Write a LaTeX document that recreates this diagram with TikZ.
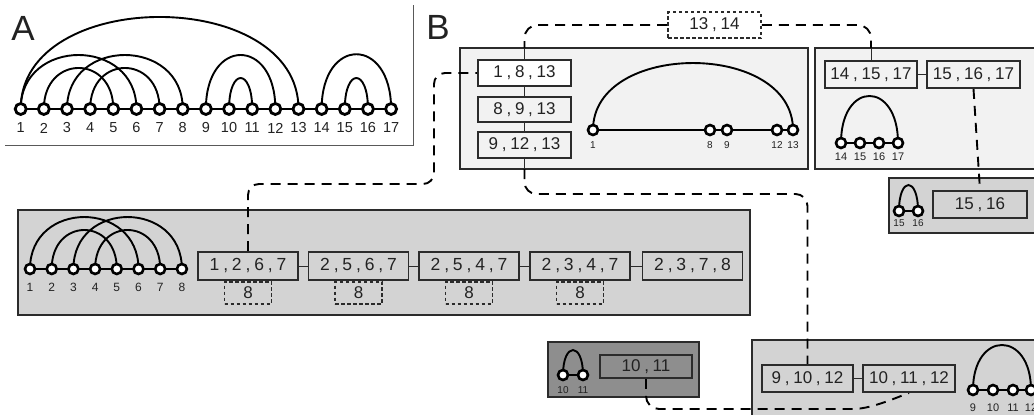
\documentclass[tikz,border=0pt]{standalone}
\usepackage{fontspec}
\setmainfont{Liberation Sans}
\definecolor{lightbg}{HTML}{F2F2F2}
\definecolor{midbg}{HTML}{D3D3D3}
\definecolor{darkbg}{HTML}{8E8E8E}
\definecolor{bordc}{HTML}{2B2B2B}
\definecolor{txtc}{HTML}{222222}
\pgfdeclarelayer{boxes}
\pgfdeclarelayer{arcs}
\pgfsetlayers{boxes,arcs,main}
\newcommand\myfs[1]{\fontsize{#1}{#1}\selectfont}
\newcommand\sepc{\hspace{0.22em},\hspace{0.22em}}
\newcommand\hump[3]{\draw[arcline] (#1.center) .. controls +(0,-#3) and +(0,-#3) .. (#2.center);}
\tikzset{
  panel/.style={draw=bordc, line width=1.9pt},
  setbox/.style={draw=bordc, line width=1.8pt, inner sep=0pt, text=txtc, font=\myfs{17}},
  sepbox/.style={draw=bordc, line width=1.6pt, dash pattern=on 3.5pt off 2.5pt, inner sep=0pt, text=txtc, font=\myfs{17}},
  vA/.style={circle, draw=black, line width=2.8pt, fill=white, minimum size=11pt, inner sep=0pt},
  vB/.style={circle, draw=black, line width=2.6pt, fill=white, minimum size=10pt, inner sep=0pt},
  lblA/.style={inner sep=0pt, text=txtc, font=\myfs{14.5}},
  lblS/.style={inner sep=0pt, text=txtc, font=\myfs{10}},
  lblM/.style={inner sep=0pt, text=txtc, font=\myfs{11}},
  lblL/.style={inner sep=0pt, text=txtc, font=\myfs{12}},
  arcline/.style={draw=black, line width=1.9pt},
  baseline/.style={draw=black, line width=1.8pt},
  thinconn/.style={draw=bordc, line width=1pt},
  dconn/.style={draw=black, line width=1.9pt, dash pattern=on 10pt off 7pt},
  letter/.style={inner sep=0pt, text=txtc, font=\myfs{35}},
}
\begin{document}
\begin{tikzpicture}[x=1pt,y=-1pt]
\useasboundingbox (0,0) rectangle (1034,415);

% ---------------- Panel A ----------------
\node[letter] (LA) at (23,28) {A};
\draw[draw=gray!70!black, line width=1pt] (5,145) -| (413,5);
\foreach \i in {1,...,17}{
  \pgfmathsetmacro\xx{20.7+23.15*(\i-1)}
  \node[vA] (a\i) at (\xx,109) {};
  \node[lblA] (la\i) at (\xx,128) {\i};
}
\begin{pgfonlayer}{arcs}
  \draw[baseline] (a1.center) -- (a17.center);
  \hump{a1}{a13}{122.7}
  \hump{a1}{a6}{72}
  \hump{a2}{a5}{54.7}
  \hump{a3}{a8}{72}
  \hump{a4}{a7}{54.7}
  \hump{a9}{a12}{72}
  \hump{a10}{a11}{41.3}
  \hump{a14}{a17}{73}
  \hump{a15}{a16}{41.3}
\end{pgfonlayer}

% ---------------- Panel B ----------------
\node[letter] (LB) at (438,27) {B};

\begin{pgfonlayer}{boxes}
  \draw[panel, fill=lightbg] (460,48) rectangle (808,169);
  \draw[panel, fill=lightbg] (815,48) rectangle (1045,169);
  \draw[panel, fill=midbg] (889,178) rectangle (1045,233);
  \draw[panel, fill=midbg] (18,210) rectangle (750,315);
  \draw[panel, fill=darkbg] (548,342) rectangle (699,397);
  \draw[panel, fill=midbg] (752,340) rectangle (1045,425);
\end{pgfonlayer}

% top-left panel
\node[setbox, fill=white, minimum width=93pt, minimum height=26pt] (b1813) at (524.5,73) {1\sepc 8\sepc 13};
\node[setbox, fill=lightbg, minimum width=93pt, minimum height=25pt] (b8913) at (524.5,109.5) {8\sepc 9\sepc 13};
\node[setbox, fill=lightbg, minimum width=93pt, minimum height=26pt] (b91213) at (524.5,145) {9\sepc 12\sepc 13};
\foreach \n/\x in {1/593,8/710,9/727,12/777,13/793}{
  \node[vB] (p\n) at (\x,130) {};
  \node[lblS] (lp\n) at (\x,145) {\n};
}
\begin{pgfonlayer}{arcs}
  \draw[baseline] (p1.center) -- (p13.center);
  \hump{p1}{p13}{89.3}
\end{pgfonlayer}

% separator 13,14
\node[sepbox, minimum width=93pt, minimum height=26pt] (s1314) at (714.5,25) {13\sepc 14};

% top-right panel
\node[setbox, fill=lightbg, minimum width=92pt, minimum height=27pt] (b141517) at (871,74.5) {14\sepc 15\sepc 17};
\node[setbox, fill=lightbg, minimum width=93pt, minimum height=27pt] (b151617) at (973.5,74.5) {15\sepc 16\sepc 17};
\foreach \n/\x in {14/841,15/860,16/879,17/898}{
  \node[vB] (q\n) at (\x,143) {};
  \node[lblM] (lq\n) at (\x,157) {\n};
}
\begin{pgfonlayer}{arcs}
  \draw[baseline] (q14.center) -- (q17.center);
  \hump{q14}{q17}{62.7}
\end{pgfonlayer}

% 15,16 panel
\node[setbox, fill=midbg, minimum width=94pt, minimum height=27pt] (b1516) at (980,204.5) {15\sepc 16};
\foreach \n/\x in {15/899,16/918}{
  \node[vB] (r\n) at (\x,211) {};
  \node[lblS] (lr\n) at (\x,223) {\n};
}
\begin{pgfonlayer}{arcs}
  \draw[baseline] (r15.center) -- (r16.center);
  \hump{r15}{r16}{34.7}
\end{pgfonlayer}

% big middle panel
\foreach \i in {1,...,8}{
  \pgfmathsetmacro\xx{30+21.7*(\i-1)}
  \node[vB] (m\i) at (\xx,269) {};
  \node[lblL] (lm\i) at (\xx,287) {\i};
}
\begin{pgfonlayer}{arcs}
  \draw[baseline] (m1.center) -- (m8.center);
  \hump{m1}{m6}{69.3}
  \hump{m2}{m5}{52}
  \hump{m3}{m8}{69.3}
  \hump{m4}{m7}{52}
\end{pgfonlayer}
\foreach \nm/\x/\t in {b1267/248/{1\sepc 2\sepc 6\sepc 7}, b2567/358.5/{2\sepc 5\sepc 6\sepc 7}, b2547/469/{2\sepc 5\sepc 4\sepc 7}, b2347/580/{2\sepc 3\sepc 4\sepc 7}, b2378/692.5/{2\sepc 3\sepc 7\sepc 8}}{
  \node[setbox, fill=midbg, minimum width=100pt, minimum height=28pt, font=\myfs{17.5}] (\nm) at (\x,266) {\t};
}
\foreach \nm/\k in {b1267/1,b2567/2,b2547/3,b2347/4}{
  \node[sepbox, minimum width=47pt, minimum height=22pt, anchor=north] (e\k) at (\nm.south) {8};
}

% dark panel
\node[setbox, fill=darkbg, minimum width=92pt, minimum height=23pt] (b1011) at (646,366.5) {10\sepc 11};
\foreach \n/\x in {10/563,11/583}{
  \node[vB] (t\n) at (\x,375) {};
  \node[lblS] (lt\n) at (\x,390) {\n};
}
\begin{pgfonlayer}{arcs}
  \draw[baseline] (t10.center) -- (t11.center);
  \hump{t10}{t11}{33.3}
\end{pgfonlayer}

% bottom-right panel
\node[setbox, fill=midbg, minimum width=91pt, minimum height=27pt] (b91012) at (807.5,378.5) {9\sepc 10\sepc 12};
\node[setbox, fill=midbg, minimum width=92pt, minimum height=27pt] (b101112) at (909,378.5) {10\sepc 11\sepc 12};
\foreach \n/\x in {9/973,10/993,11/1013,12/1031}{
  \node[vB] (u\n) at (\x,390) {};
  \node[lblM] (lu\n) at (\x,408) {\n};
}
\begin{pgfonlayer}{arcs}
  \draw[baseline] (u9.center) -- (u12.center);
  \hump{u9}{u12}{60}
\end{pgfonlayer}

% ---------------- connectors ----------------
\coordinate (jA) at (524.5,48);
\coordinate (jB) at (871,48);
\coordinate (jC) at (524.5,169);
\coordinate (jD) at (807.5,194);
\coordinate (jE) at (840,409);
\coordinate (jF) at (434,184);
\begin{pgfonlayer}{arcs}
  \draw[thinconn] (jA) -- (b1813.north);
  \draw[thinconn] (b1813.south) -- (b8913.north);
  \draw[thinconn] (b8913.south) -- (b91213.north);
  \draw[thinconn] (b91213.south) -- (jC);
  \draw[thinconn] (jB) -- (b141517.north);
  \draw[thinconn] (b141517.east) -- (b151617.west);
  \draw[thinconn] (b1267.east) -- (b2567.west);
  \draw[thinconn] (b2567.east) -- (b2547.west);
  \draw[thinconn] (b2547.east) -- (b2347.west);
  \draw[thinconn] (b2347.east) -- (b2378.west);
  \draw[thinconn] (b91012.east) -- (b101112.west);
  \draw[dconn, rounded corners=13pt] (s1314.west) -| (jA);
  \draw[dconn, rounded corners=13pt] (s1314.east) -| (jB);
  \draw[dconn] (b151617.south) -- (b1516.north);
  \draw[dconn, rounded corners=12pt] (jC) |- (jD) -- (b91012.north);
  \draw[dconn, rounded corners=11pt] (b1267.north) |- (jF) |- (b1813.west);
  \draw[dconn, rounded corners=13pt] (b1011.south) |- (jE) .. controls (870,409) and (893,399) .. (b101112.south);
\end{pgfonlayer}
\end{tikzpicture}
\end{document}
